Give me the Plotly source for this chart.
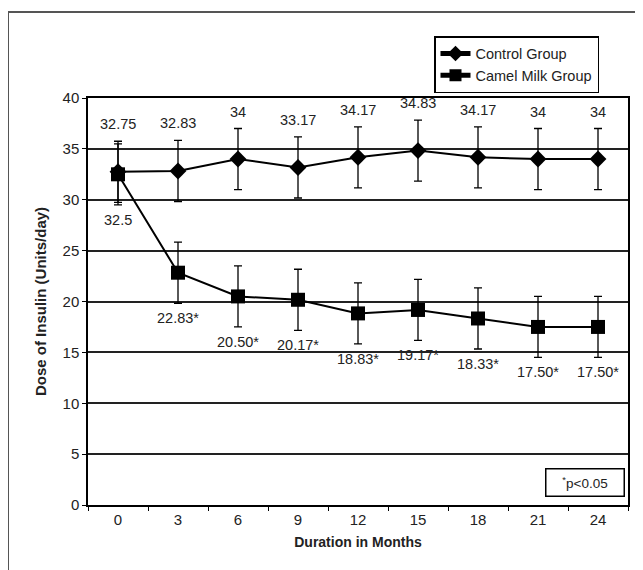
import plotly.graph_objects as go

months = ["0", "3", "6", "9", "12", "15", "18", "21", "24"]
control = [32.75, 32.83, 34, 33.17, 34.17, 34.83, 34.17, 34, 34]
camel = [32.5, 22.83, 20.50, 20.17, 18.83, 19.17, 18.33, 17.50, 17.50]
control_err = [3, 3, 3, 3, 3, 3, 3, 3, 3]
camel_err = [3, 3, 3, 3, 3, 3, 3, 3, 3]
control_labels = ["32.75", "32.83", "34", "33.17", "34.17", "34.83", "34.17", "34", "34"]
camel_labels = ["32.5", "22.83*", "20.50*", "20.17*", "18.83*", "19.17*", "18.33*", "17.50*", "17.50*"]

FONT = "Liberation Sans, Arial, sans-serif"
TXT = "#222"
# page has an 8px body margin, so the figure is sized to fit inside the window
W, H = 635, 562
L, R, T, B = 80, 15, 90, 65
pw, ph = W - L - R, H - T - B

fig = go.Figure()
fig.add_trace(go.Scatter(
    x=months, y=control, name="Control Group", mode="lines+markers",
    line=dict(color="black", width=2),
    marker=dict(symbol="diamond", size=13, color="black"),
    error_y=dict(type="data", array=control_err, color="black", thickness=1.3, width=4),
))
fig.add_trace(go.Scatter(
    x=months, y=camel, name="Camel Milk Group", mode="lines+markers",
    line=dict(color="black", width=2),
    marker=dict(symbol="square", size=14, color="black"),
    error_y=dict(type="data", array=camel_err, color="black", thickness=1.3, width=4),
))

ann = []
for i, (v, e, t) in enumerate(zip(control, control_err, control_labels)):
    ann.append(dict(x=i, y=v + e, text=t, showarrow=False, yshift=17,
                    font=dict(family=FONT, size=14.5, color=TXT)))
for i, (v, e, t) in enumerate(zip(camel, camel_err, camel_labels)):
    ann.append(dict(x=i, y=v - e, text=t, showarrow=False, yshift=-15,
                    font=dict(family=FONT, size=14.5, color=TXT)))
# "*p<0.05" note box (fig coords: x 537-617, y 460-489)
ann.append(dict(xref="paper", yref="paper", x=(617 - L) / pw, y=(H - B - 460) / ph,
                xanchor="right", yanchor="top", text="<sup>*</sup>p&lt;0.05", showarrow=False,
                width=75, height=24, bordercolor="black", borderwidth=1.5,
                font=dict(family=FONT, size=13.5, color=TXT)))

fig.update_layout(
    width=W, height=H,
    margin=dict(l=L, r=R, t=T, b=B),
    paper_bgcolor="white", plot_bgcolor="white",
    font=dict(family=FONT, size=14, color=TXT),
    annotations=ann,
    legend=dict(x=(426 - L) / pw, y=1 + (T - 28) / ph, xanchor="left", yanchor="top",
                bordercolor="black", borderwidth=1.5, bgcolor="white",
                font=dict(family=FONT, size=14.5, color=TXT),
                itemwidth=30, tracegroupgap=0, itemsizing="constant"),
    xaxis=dict(type="category", range=[-0.5, 8.5], showgrid=False, automargin=False,
               tickson="boundaries", ticks="outside", ticklen=4, tickcolor="black",
               showline=True, linecolor="black", linewidth=1.5, mirror=True,
               title=dict(text="<b>Duration in Months</b>", font=dict(family=FONT, size=14), standoff=10),
               tickfont=dict(family=FONT, size=15)),
    yaxis=dict(range=[0, 40], dtick=5, showgrid=True, gridcolor="#222", gridwidth=1.5,
               ticks="outside", ticklen=4, tickcolor="black", zeroline=False, automargin=False,
               showline=True, linecolor="black", linewidth=1.5, mirror=True,
               title=dict(text="<b>Dose of Insulin (Units/day)</b>", font=dict(family=FONT, size=15), standoff=12),
               tickfont=dict(family=FONT, size=15)),
    shapes=[dict(type="rect", xref="paper", yref="paper",
                 x0=(0 - L) / pw, x1=(660 - L) / pw,
                 y0=-(590 - (H - B)) / ph, y1=1 + (T - 4) / ph,
                 line=dict(color="#555", width=2), layer="below")],
    showlegend=True,
)

fig.write_html("out.html")
